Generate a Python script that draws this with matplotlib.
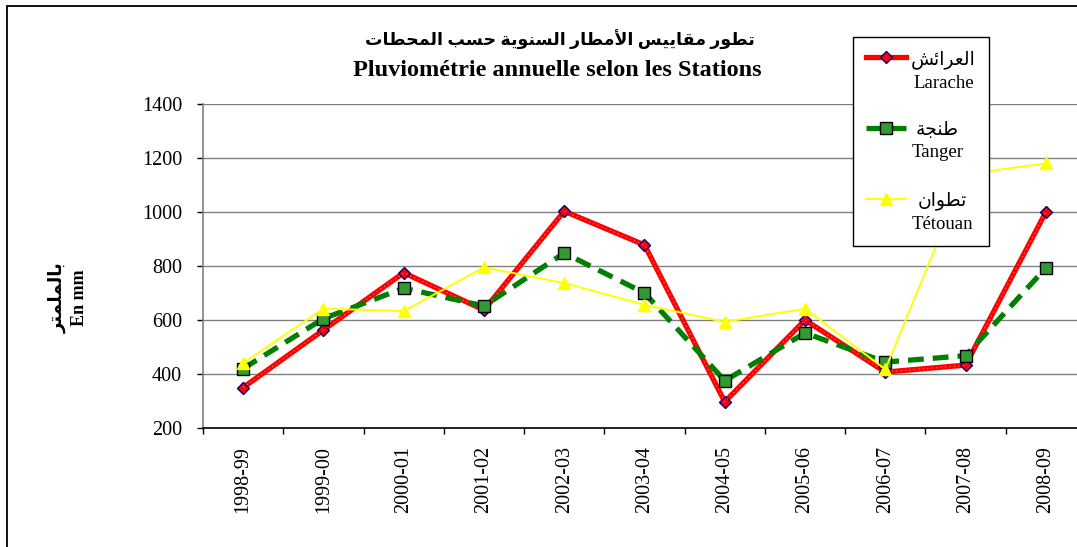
import matplotlib
matplotlib.use('Agg')
import matplotlib.pyplot as plt
from matplotlib.legend_handler import HandlerLine2D
from matplotlib.patches import Rectangle
import numpy as np

# data (mm)
seasons = ['1998-99', '1999-00', '2000-01', '2001-02', '2002-03', '2003-04',
           '2004-05', '2005-06', '2006-07', '2007-08', '2008-09']
larache = [350, 563, 775, 637, 1003, 878, 297, 600, 407, 433, 1000]
tanger = [420, 605, 718, 652, 848, 700, 375, 552, 444, 468, 793]
tetouan = [440, 642, 633, 795, 737, 656, 593, 642, 417, 1140, 1180]

title_ar = 'تطور مقاييس الأمطار السنوية حسب المحطات'
title_fr = 'Pluviométrie annuelle selon les Stations'
ylabel_ar = 'بالملمتر'
ylabel_fr = 'En mm'
names_ar = ['العرائش', 'طنجة', 'تطوان']
names_fr = ['Larache', 'Tanger', 'Tétouan']


# matplotlib does no arabic shaping, so pick the contextual forms by hand
FORMS = {
    'ا': ('\uFE8D', '\uFE8E', None, None),
    'أ': ('\uFE83', '\uFE84', None, None),
    'ب': ('\uFE8F', '\uFE90', '\uFE91', '\uFE92'),
    'ة': ('\uFE93', '\uFE94', None, None),
    'ت': ('\uFE95', '\uFE96', '\uFE97', '\uFE98'),
    'ج': ('\uFE9D', '\uFE9E', '\uFE9F', '\uFEA0'),
    'ح': ('\uFEA1', '\uFEA2', '\uFEA3', '\uFEA4'),
    'ر': ('\uFEAD', '\uFEAE', None, None),
    'س': ('\uFEB1', '\uFEB2', '\uFEB3', '\uFEB4'),
    'ش': ('\uFEB5', '\uFEB6', '\uFEB7', '\uFEB8'),
    'ط': ('\uFEC1', '\uFEC2', '\uFEC3', '\uFEC4'),
    'ع': ('\uFEC9', '\uFECA', '\uFECB', '\uFECC'),
    'ق': ('\uFED5', '\uFED6', '\uFED7', '\uFED8'),
    'ل': ('\uFEDD', '\uFEDE', '\uFEDF', '\uFEE0'),
    'م': ('\uFEE1', '\uFEE2', '\uFEE3', '\uFEE4'),
    'ن': ('\uFEE5', '\uFEE6', '\uFEE7', '\uFEE8'),
    'و': ('\uFEED', '\uFEEE', None, None),
    'ي': ('\uFEF1', '\uFEF2', '\uFEF3', '\uFEF4'),
    'ئ': ('\uFE89', '\uFE8A', '\uFE8B', '\uFE8C'),
}
LAM_ALEF = {'أ': ('\uFEF7', '\uFEF8'), 'ا': ('\uFEFB', '\uFEFC')}


def shape(word):
    out = []
    i = 0
    prev_joins = False
    while i < len(word):
        c = word[i]
        if c == 'ل' and i + 1 < len(word) and word[i + 1] in LAM_ALEF:
            out.append(LAM_ALEF[word[i + 1]][1 if prev_joins else 0])
            prev_joins = False
            i += 2
            continue
        f = FORMS.get(c)
        if f is None:
            out.append(c)
            prev_joins = False
            i += 1
            continue
        nxt = word[i + 1] if i + 1 < len(word) else None
        next_joins = f[2] is not None and nxt in FORMS
        if prev_joins and next_joins:
            out.append(f[3])
        elif prev_joins:
            out.append(f[1])
        elif next_joins:
            out.append(f[2])
        else:
            out.append(f[0])
        prev_joins = next_joins
        i += 1
    return ''.join(out)


def ar(text):
    return ' '.join(shape(w) for w in text.split(' '))[::-1]


class FirstLineHandler(HandlerLine2D):
    # put the key on the first line of a two-line label
    def create_artists(self, legend, orig_handle, xdescent, ydescent,
                       width, height, fontsize, trans):
        arts = super().create_artists(legend, orig_handle, xdescent, ydescent,
                                      width, height, fontsize, trans)
        for a in arts:
            a.set_ydata(np.asarray(a.get_ydata()) + 0.72 * fontsize)
        return arts


serif = ['Liberation Serif', 'DejaVu Sans']
plt.rcParams['font.family'] = serif

W, H = 1077, 547
fig = plt.figure(figsize=(W / 100, H / 100), dpi=100)
fig.patches.append(Rectangle((7 / W, -0.2), 1.5, 1.2 - 6 / H, transform=fig.transFigure,
                             fill=False, edgecolor='black', linewidth=1.3))

ax = fig.add_axes([203 / W, 1 - 428 / H, 883 / W, 324 / H])
x = np.arange(len(seasons))

ax.plot(x, larache, color='#ff0000', lw=3.8, marker='D', ms=6.3,
        mfc='#ff0000', mec='#000080', mew=1.0, label=ar(names_ar[0]) + '\n' + names_fr[0], zorder=3)
ax.plot(x, larache, color='white', lw=0.8, ls=(0, (1, 3)), alpha=0.5, zorder=3.1)
ax.plot(x, tanger, color='#008000', lw=3.8, ls=(0, (3, 1.7)), marker='s', ms=8,
        mfc='#339933', mec='#000000', mew=1.0, label=ar(names_ar[1]) + '\n' + names_fr[1], zorder=4)
ax.plot(x, tetouan, color='#ffff00', lw=1.4, marker='^', ms=8.5,
        mfc='#ffff00', mec='#ffff00', label=ar(names_ar[2]) + '\n' + names_fr[2], zorder=5)

ax.set_xlim(-0.5, len(seasons) - 0.5)
ax.set_ylim(200, 1400)
ax.set_yticks(np.arange(200, 1401, 200))
ax.set_xticks(x)
ax.set_xticklabels(seasons, rotation=90)
ax.set_xticks(np.arange(-0.5, len(seasons), 1), minor=True)
ax.tick_params(axis='x', which='major', length=0, pad=13, labelsize=14.5)
ax.tick_params(axis='x', which='minor', length=4.5, width=1, color='black', direction='out')
ax.tick_params(axis='y', length=4, width=1, color='black', pad=11, labelsize=14.5)
ax.yaxis.grid(True, color='#808080', lw=1)
ax.set_axisbelow(True)
for s in ['top', 'right']:
    ax.spines[s].set_visible(False)
ax.spines['left'].set_color('#808080')
ax.spines['left'].set_linewidth(1.2)
ax.spines['bottom'].set_color('black')
ax.spines['bottom'].set_linewidth(1.2)

leg = ax.legend(loc='upper left', bbox_to_anchor=(853 / W, 1 - 37 / H),
                bbox_transform=fig.transFigure, fontsize=13.5, frameon=True,
                fancybox=False, shadow=False, edgecolor='black', framealpha=1,
                handlelength=2.1, handletextpad=0.3, labelspacing=1.6,
                borderpad=0.7, borderaxespad=0,
                handler_map={matplotlib.lines.Line2D: FirstLineHandler()})
leg.get_frame().set_linewidth(1.0)
for t in leg.get_texts():
    t.set_multialignment('center')
    t.set_linespacing(1.45)

fig.text(560 / W, 1 - 40 / H, ar(title_ar), ha='center', va='center',
         fontsize=12.5, fontweight='bold', family=serif)
fig.text(557 / W, 1 - 70 / H, title_fr, ha='center', va='center',
         fontsize=17.5, fontweight='bold', family=serif)
fig.text(68 / W, 1 - 298 / H, ar(ylabel_ar) + '\n' + ylabel_fr, rotation=90,
         ha='center', va='center', multialignment='center', linespacing=1.35,
         fontsize=13, fontweight='bold', family=serif)

fig.savefig('out.png', dpi=100)
